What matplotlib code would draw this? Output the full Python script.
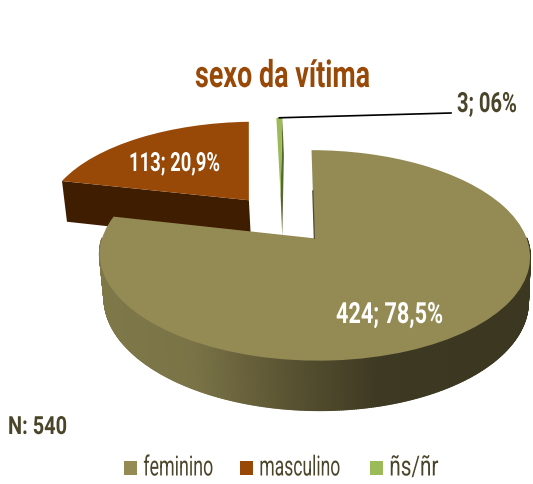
import numpy as np
import matplotlib
matplotlib.use('Agg')
import matplotlib.pyplot as plt
from matplotlib.collections import PolyCollection
from matplotlib.colors import LinearSegmentedColormap
from matplotlib.legend import Legend
from matplotlib.patches import Patch
from matplotlib.patheffects import AbstractPathEffect
from matplotlib.transforms import Affine2D, Transform

plt.rcParams['font.family'] = ['Roboto', 'DejaVu Sans']

#---------------------------------- dados ---------------------------------#
categorias = ['feminino', 'masculino', 'ñs/ñr']
valores = [424, 113, 3]
rotulos = ['424; 78,5%', '113; 20,9%', '3; 06%']
titulo = 'sexo da vítima'
total = 'N: 540'

cores = ['#948a54', '#984807', '#9bbb59']
cor_texto = '#4a452a'


#---------------------------------- perspectiva ---------------------------#
class Perspectiva(Transform):
    input_dims = 2
    output_dims = 2
    is_separable = False
    has_inverse = False

    def __init__(self, cy, sx=1.0, sy=1.0):
        super().__init__()
        self.cy = cy
        self.sx = sx
        self.sy = sy

    def transform_non_affine(self, values):
        u = values[:, 0]
        v = values[:, 1]
        w = 1 + 0.162 * v
        y = self.cy - 102.2 * self.sy * v / w
        return np.column_stack((313 + 212 * self.sx * u / w + 0.03 * (y - 238), y))


# a fonte original e bem estreita, entao aperta o texto na horizontal
class Estreita(AbstractPathEffect):
    def __init__(self, f, g=1.0):
        super().__init__()
        self.f = f
        self.g = g

    def draw_path(self, renderer, gc, tpath, affine, rgbFace=None):
        m = affine.get_matrix()
        x0 = m[0, 2]
        y0 = m[1, 2]
        novo = affine + Affine2D().translate(-x0, -y0).scale(self.f, self.g).translate(x0, y0)
        renderer.draw_path(gc, tpath, novo, rgbFace)


topo = Perspectiva(237.5)
base = Perspectiva(281, 0.985, 1.05)


def ponto(w, ang, r=1.0):
    a = np.radians(ang)
    return np.array([[w.center[0] + r * np.cos(a), w.center[1] + r * np.sin(a)]])


fig, ax = plt.subplots(figsize=(5.33, 4.84), dpi=100)
ax.set_position([0, 0, 1, 1])

wedges, _ = ax.pie(valores, colors=cores, explode=[0.255] * 3, center=(-0.153, 0.191),
                   startangle=90, counterclock=False, radius=1,
                   wedgeprops={'linewidth': 0})
ax.set_xlim(0, 533)
ax.set_ylim(484, 0)
ax.axis('off')

for w in wedges:
    w.set_transform(topo + ax.transData)
wedges[2].set_zorder(3)
wedges[1].set_zorder(6)
wedges[0].set_zorder(9)


# parede plana: lado radial da fatia
def parede_radial(w, ang, cor, z):
    q = [topo.transform(ponto(w, ang, 0))[0], topo.transform(ponto(w, ang))[0],
         base.transform(ponto(w, ang))[0], base.transform(ponto(w, ang, 0))[0]]
    ax.fill([p[0] for p in q], [p[1] for p in q], color=cor, linewidth=0, zorder=z)


parede_radial(wedges[2], wedges[2].theta2 - 2, '#56682f', 2)
parede_radial(wedges[1], wedges[1].theta2, '#3f1d00', 5)

# parede curva da fatia feminino, com degrade
degrade = LinearSegmentedColormap.from_list('parede', ['#7e7849', '#7a7347', '#5a5433', '#3e3922', '#3c3720'])
angs = np.linspace(-180, 0, 361)
quads = []
tons = []
for a0, a1 in zip(angs[:-1], angs[1:]):
    q = np.vstack((topo.transform(ponto(wedges[0], a0)), topo.transform(ponto(wedges[0], a1)),
                   base.transform(ponto(wedges[0], a1)), base.transform(ponto(wedges[0], a0))))
    quads.append(q)
    tons.append((q[:, 0].mean() - 103) / (527 - 103))
tons = np.clip(np.array(tons) * 1.15, 0, 1)
paredes = PolyCollection(quads, facecolors=degrade(tons), edgecolors=degrade(tons), linewidths=1.2, zorder=8)
ax.add_collection(paredes)

# aresta escura junto ao vertice da fatia feminino
ini = topo.transform(ponto(wedges[0], 90, 0.5))[0]
fim = topo.transform(ponto(wedges[0], 90, 0))[0]
ax.plot([ini[0], fim[0]], [ini[1], fim[1]], color='#4f4b30', lw=0.9, zorder=10)

#---------------------------------- textos ---------------------------------#
renderer = fig.canvas.get_renderer()


def texto(x, y, s, largura, cor, tam, g=1.0):
    t = ax.text(x, y, s, color=cor, fontsize=tam, fontweight='bold', ha='left', va='baseline', zorder=12)
    f = largura / t.get_window_extent(renderer).width
    t.set_path_effects([Estreita(f, g)])
    return t


texto(195, 87, titulo, 175, '#984807', 27)
texto(336, 323, rotulos[0], 107, 'white', 21)
texto(129, 171, rotulos[1], 91, 'white', 19)
texto(457, 112, rotulos[2], 60, cor_texto, 17, 20 / 17)
texto(8, 434, total, 59, cor_texto, 18)

# linha de chamada do rotulo menor
inicio = topo.transform(ponto(wedges[2], 91))[0]
ax.plot([inicio[0], 451], [inicio[1], 113], color='black', lw=1.2, zorder=11)

# uma legenda por item, para as colunas ficarem no lugar mesmo com o texto apertado
pos_legenda = [124, 240, 370]
larg_legenda = [70, 81, 49]
for nome, cor, xpos, larg in zip(categorias, cores, pos_legenda, larg_legenda):
    leg = Legend(ax, [Patch(facecolor=cor, edgecolor='none')], [nome], loc='center left',
                 bbox_to_anchor=(xpos, 470), bbox_transform=ax.transData, frameon=False, fontsize=16,
                 labelcolor=cor_texto, handlelength=0.6, handleheight=0.6, handletextpad=0.27,
                 borderpad=0, borderaxespad=0)
    ax.add_artist(leg)
    t = leg.get_texts()[0]
    t.set_path_effects([Estreita(larg / t.get_window_extent(renderer).width, 1.25)])

fig.savefig('out.png', dpi=100)
